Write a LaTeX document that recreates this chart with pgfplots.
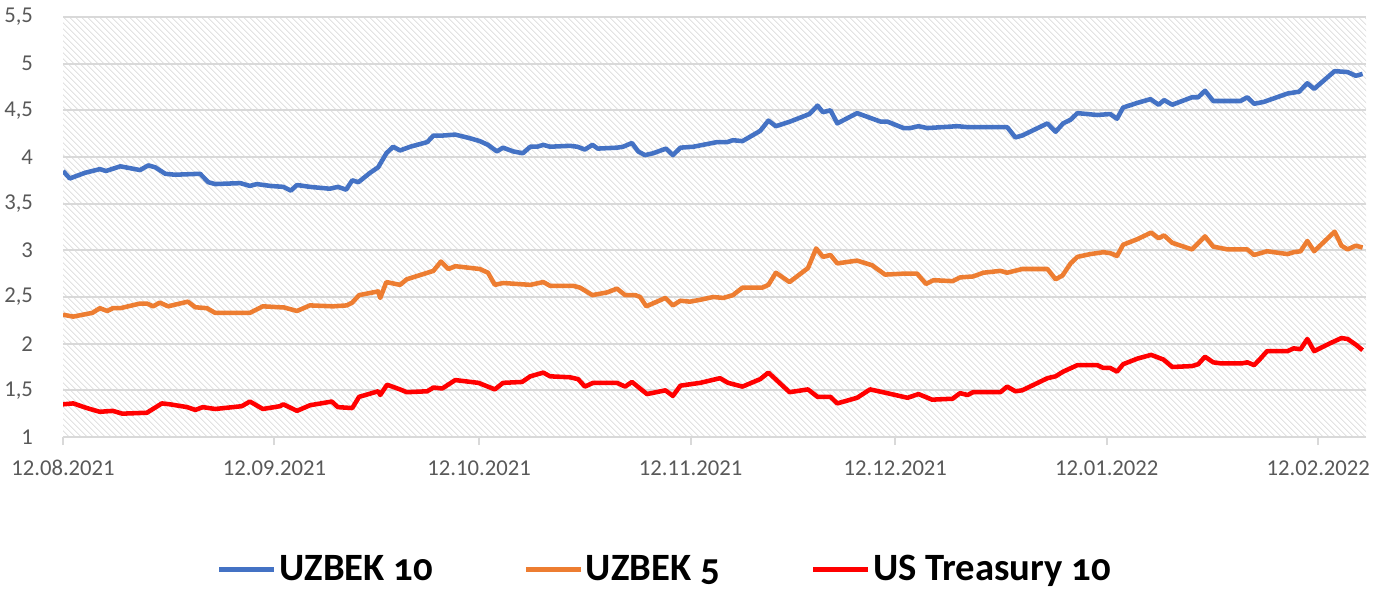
\documentclass[border=0pt]{standalone}
\usepackage{fontspec}
\setmainfont{Carlito}
\usepackage{pgfplots}
\pgfplotsset{compat=1.18}
\usetikzlibrary{patterns.meta}

\definecolor{uzb10}{HTML}{4472C4}
\definecolor{uzb5}{HTML}{ED7D31}
\definecolor{ust10}{HTML}{FF0000}
\definecolor{lbl}{HTML}{595959}
\definecolor{gridc}{HTML}{D9D9D9}
\definecolor{hatch}{HTML}{D4D4D4}

\begin{document}
\begin{tikzpicture}
% picture frame, 1 px of the reference = 0.75bp
\useasboundingbox (-47.25bp,-114.75bp) rectangle (986.25bp,327.75bp);
\begin{axis}[
    scale only axis,
    width=977.25bp,
    height=315bp,
    xmin=0, xmax=191,
    ymin=1, ymax=5.5,
    ytick={1,1.5,...,5.5},
    xtick={0,31,61,92,122,153,184},
    xticklabels={12.08.2021,12.09.2021,12.10.2021,12.11.2021,12.12.2021,12.01.2022,12.02.2022},
    axis lines*=left,
    x axis line style={gridc, line width=1.5bp},
    y axis line style={draw=none},
    ytick style={draw=none},
    xtick style={gridc, line width=1.5bp},
    tick align=outside,
    major tick length=6bp,
    ymajorgrids,
    grid style={gridc, line width=1.5bp},
    axis background/.style={pattern={Lines[angle=-45, distance=3.6bp, line width=0.75bp]}, pattern color=hatch},
    /pgf/number format/.cd, use comma, fixed, precision=1, assume math mode=true,
    /pgfplots/.cd,
    tick label style={font=\fontsize{17bp}{20bp}\selectfont, text=lbl},
    xticklabel style={yshift=-8bp},
    yticklabel style={xshift=-13bp},
    legend columns=3,
    legend style={at={(0.462,-0.315)}, anchor=center, draw=none, fill=none,
        font=\fontsize{29bp}{32bp}\selectfont\bfseries\addfontfeatures{Numbers=OldStyle},
        /tikz/every even column/.append style={column sep=66bp}},
    legend image code/.code={\draw[#1, line width=4bp] (0bp,0bp) -- (41bp,0bp);},
    every axis plot/.append style={line width=3.4bp, line join=round},
]

\addplot[uzb10] coordinates {
(0,3.85) (1.0,3.77) (3.2,3.83) (5.4,3.87) (6.3,3.85) (8.4,3.90) (11.3,3.86) (12.5,3.91) (13.5,3.89)
(15.0,3.82) (16.4,3.81) (20.1,3.82) (21.3,3.73) (22.3,3.71) (26.0,3.72) (27.4,3.69) (28.4,3.71)
(30.4,3.69) (32.3,3.68) (33.4,3.64) (34.3,3.70) (36.2,3.68) (39.1,3.66) (40.3,3.68) (41.5,3.65)
(42.4,3.75) (43.3,3.73) (45.0,3.83) (46.2,3.89) (47.4,4.04) (48.4,4.11) (49.4,4.07) (50.9,4.11)
(53.4,4.16) (54.3,4.23) (55.7,4.23) (57.5,4.24) (59.7,4.20) (61.1,4.17) (62.3,4.13) (63.6,4.06)
(64.5,4.10) (66.0,4.06) (67.4,4.04) (68.5,4.11) (69.5,4.11) (70.4,4.13) (71.4,4.11) (74.3,4.12)
(75.4,4.11) (76.5,4.08) (77.6,4.13) (78.4,4.09) (81.2,4.10) (82.1,4.11) (83.4,4.15) (84.3,4.06)
(85.3,4.02) (86.5,4.04) (88.4,4.09) (89.4,4.02) (90.5,4.10) (92.4,4.11) (93.8,4.13) (95.9,4.16)
(97.4,4.16) (98.2,4.18) (99.6,4.17) (102.2,4.28) (103.4,4.39) (104.5,4.33) (106.6,4.38) (109.4,4.46)
(110.6,4.55) (111.4,4.48) (112.5,4.50) (113.5,4.36) (116.4,4.47) (119.8,4.38) (120.8,4.38)
(123.2,4.31) (124.2,4.31) (125.4,4.33) (126.7,4.31) (131.1,4.33) (132.6,4.32) (134.9,4.32)
(138.4,4.32) (139.6,4.21) (140.6,4.23) (144.3,4.36) (145.5,4.27) (146.6,4.36) (147.7,4.40)
(148.7,4.47) (151.6,4.45) (153.5,4.46) (154.5,4.41) (155.4,4.53) (157.5,4.58) (159.4,4.62)
(160.6,4.56) (161.4,4.61) (162.6,4.56) (165.5,4.64) (166.4,4.64) (167.4,4.71) (168.6,4.60)
(172.6,4.60) (173.6,4.64) (174.6,4.57) (176.0,4.59) (179.5,4.68) (181.2,4.70) (182.4,4.79)
(183.4,4.73) (186.4,4.92) (188.3,4.91) (189.5,4.87) (190.5,4.89)
};
\addlegendentry{UZBEK 10}

\addplot[uzb5] coordinates {
(0,2.31) (1.5,2.29) (4.3,2.33) (5.4,2.38) (6.5,2.35) (7.3,2.38) (8.4,2.38) (11.3,2.43) (12.3,2.43)
(13.2,2.40) (14.2,2.44) (15.4,2.40) (18.3,2.45) (19.4,2.39) (21.1,2.38) (22.3,2.33) (27.4,2.33)
(29.3,2.40) (31.8,2.39) (32.3,2.39) (34.3,2.35) (36.2,2.41) (39.6,2.40) (41.6,2.41) (42.4,2.44)
(43.4,2.52) (46.2,2.56) (46.5,2.49) (47.4,2.66) (49.4,2.63) (50.4,2.69) (54.3,2.78) (55.4,2.88)
(56.5,2.80) (57.5,2.83) (61.1,2.80) (62.3,2.76) (63.3,2.63) (64.5,2.65) (68.5,2.63) (70.4,2.66)
(71.4,2.62) (74.8,2.62) (75.8,2.60) (77.6,2.52) (79.8,2.55) (81.2,2.59) (82.4,2.52) (83.9,2.52)
(84.6,2.50) (85.5,2.40) (88.3,2.49) (89.4,2.41) (90.5,2.46) (91.9,2.45) (93.4,2.47) (95.3,2.50)
(96.8,2.49) (98.2,2.52) (99.6,2.60) (102.5,2.60) (103.4,2.63) (104.5,2.76) (106.5,2.66) (109.2,2.81)
(110.4,3.02) (111.4,2.93) (112.5,2.95) (113.5,2.86) (116.4,2.89) (118.6,2.84) (120.5,2.74)
(123.2,2.75) (125.2,2.75) (126.5,2.64) (127.6,2.68) (130.4,2.67) (131.5,2.71) (133.4,2.72)
(134.9,2.76) (137.4,2.78) (138.4,2.76) (140.6,2.80) (144.3,2.80) (145.5,2.69) (146.5,2.73)
(147.7,2.86) (148.7,2.93) (150.6,2.96) (152.5,2.98) (153.5,2.97) (154.5,2.94) (155.4,3.06)
(157.5,3.12) (159.5,3.19) (160.6,3.13) (161.4,3.16) (162.6,3.08) (165.5,3.01) (167.4,3.15)
(168.6,3.04) (170.7,3.01) (173.6,3.01) (174.6,2.95) (176.5,2.99) (179.5,2.96) (180.4,2.98)
(181.4,2.99) (182.4,3.10) (183.4,2.99) (186.4,3.20) (187.4,3.05) (188.3,3.01) (189.5,3.05) (190.5,3.03)
};
\addlegendentry{UZBEK 5}

\addplot[ust10] coordinates {
(0,1.35) (1.5,1.36) (3.5,1.31) (5.4,1.27) (7.3,1.28) (8.7,1.25) (12.3,1.26) (14.5,1.36) (15.7,1.35)
(18.2,1.32) (19.4,1.29) (20.5,1.32) (22.3,1.30) (26.2,1.33) (27.4,1.38) (29.3,1.30) (31.8,1.33)
(32.3,1.35) (34.3,1.28) (36.2,1.34) (39.4,1.38) (40.3,1.32) (42.4,1.31) (43.4,1.43) (46.2,1.49)
(46.5,1.45) (47.5,1.56) (49.4,1.51) (50.4,1.48) (53.4,1.49) (54.3,1.53) (55.6,1.52) (57.5,1.61)
(60.9,1.58) (63.3,1.51) (64.5,1.58) (67.3,1.59) (68.5,1.65) (70.4,1.69) (71.4,1.65) (74.3,1.64)
(75.5,1.62) (76.5,1.54) (77.7,1.58) (81.2,1.58) (82.4,1.54) (83.4,1.59) (85.6,1.46) (88.3,1.50)
(89.4,1.44) (90.5,1.55) (92.4,1.57) (93.4,1.58) (96.3,1.63) (97.5,1.58) (99.6,1.54) (102.2,1.62)
(103.4,1.69) (106.5,1.48) (109.2,1.51) (110.6,1.43) (112.5,1.43) (113.5,1.36) (116.4,1.42)
(118.3,1.51) (120.8,1.47) (123.8,1.42) (125.4,1.46) (127.4,1.40) (130.4,1.41) (131.5,1.47)
(132.6,1.45) (133.4,1.48) (137.4,1.48) (138.4,1.54) (139.6,1.49) (140.6,1.50) (144.3,1.63)
(145.5,1.65) (146.6,1.70) (148.7,1.77) (151.6,1.77) (152.5,1.74) (153.5,1.74) (154.5,1.70)
(155.4,1.78) (157.5,1.84) (159.5,1.88) (161.3,1.83) (162.6,1.75) (165.5,1.76) (166.4,1.78)
(167.4,1.86) (168.6,1.80) (169.6,1.79) (172.9,1.79) (173.6,1.80) (174.6,1.77) (175.4,1.83)
(176.5,1.92) (179.5,1.92) (180.4,1.95) (181.4,1.94) (182.4,2.05) (183.4,1.92) (185.9,2.01)
(187.4,2.06) (188.3,2.05) (189.5,1.99) (190.5,1.93)
};
\addlegendentry{US Treasury 10}

\end{axis}
\end{tikzpicture}
\end{document}
